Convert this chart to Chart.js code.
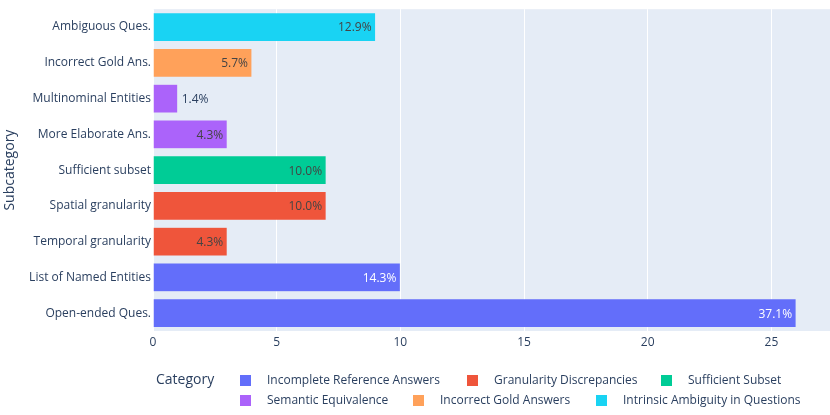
<!DOCTYPE html>
<html>
<head>
<meta charset="utf-8">
<script src="https://cdn.jsdelivr.net/npm/chart.js@4"></script>
<style>
html,body{margin:0;padding:0;background:#fff;}
#wrap{width:830px;height:415px;position:relative;}
</style>
</head>
<body>
<div id="wrap"><canvas id="c"></canvas></div>
<script>
// ---- data (top level) ----
const subcategories = ["Ambiguous Ques.", "Incorrect Gold Ans.", "Multinominal Entities", "More Elaborate Ans.", "Sufficient subset", "Spatial granularity", "Temporal granularity", "List of Named Entities", "Open-ended Ques."];
const counts = [9, 4, 1, 3, 7, 7, 3, 10, 26];
const percentLabels = ["12.9%", "5.7%", "1.4%", "4.3%", "10.0%", "10.0%", "4.3%", "14.3%", "37.1%"];
const barCategory = ["Intrinsic Ambiguity in Questions", "Incorrect Gold Answers", "Semantic Equivalence", "Semantic Equivalence", "Sufficient Subset", "Granularity Discrepancies", "Granularity Discrepancies", "Incomplete Reference Answers", "Incomplete Reference Answers"];
const categories = ["Incomplete Reference Answers", "Granularity Discrepancies", "Sufficient Subset", "Semantic Equivalence", "Incorrect Gold Answers", "Intrinsic Ambiguity in Questions"];
const categoryColors = ["#636EFA", "#EF553B", "#00CC96", "#AB63FA", "#FFA15A", "#19D3F3"];
const categoryTextColors = ["#ffffff", "#444444", "#444444", "#444444", "#444444", "#444444"];
const xTicks = [0, 5, 10, 15, 20, 25];

const FONT = "'Open Sans', sans-serif";
const INK = "#2a3f5f";
const colorOf = c => categoryColors[categories.indexOf(c)];
const textColorOf = c => categoryTextColors[categories.indexOf(c)];

const plotBg = {
  id: 'plotBg',
  beforeDraw(chart) {
    const {ctx, chartArea: a} = chart;
    ctx.save();
    ctx.fillStyle = '#ffffff';
    ctx.fillRect(0, 0, chart.width, chart.height);
    ctx.fillStyle = '#E5ECF6';
    ctx.fillRect(a.left, a.top, a.right - a.left, a.bottom - a.top);
    ctx.restore();
  }
};

const barText = {
  id: 'barText',
  afterDatasetsDraw(chart) {
    const {ctx} = chart;
    const meta = chart.getDatasetMeta(0);
    ctx.save();
    ctx.font = "12px " + FONT;
    ctx.textBaseline = 'middle';
    meta.data.forEach((bar, i) => {
      const txt = percentLabels[i];
      const w = ctx.measureText(txt).width;
      const barW = bar.x - bar.base;
      if (barW >= w + 8) {
        ctx.textAlign = 'right';
        ctx.fillStyle = textColorOf(barCategory[i]);
        ctx.fillText(txt, bar.x - 4, bar.y + 1);
      } else {
        ctx.textAlign = 'left';
        ctx.fillStyle = INK;
        ctx.fillText(txt, bar.x + 4, bar.y + 1);
      }
    });
    ctx.restore();
  }
};

const legendPlot = {
  id: 'legendPlot',
  afterDraw(chart) {
    const {ctx} = chart;
    ctx.save();
    ctx.textBaseline = 'middle';
    ctx.textAlign = 'left';
    ctx.fillStyle = INK;
    ctx.font = "14px " + FONT;
    ctx.fillText("Category", 156, 380);
    ctx.font = "12px " + FONT;
    const boxX = [240, 467, 661, 240, 413, 596];
    const rowY = [381, 401];
    categories.forEach((c, i) => {
      const x = boxX[i], y = rowY[Math.floor(i / 3)];
      ctx.fillStyle = categoryColors[i];
      ctx.fillRect(x, y - 6, 11, 11);
      ctx.fillStyle = INK;
      ctx.fillText(c, x + 27, y);
    });
    ctx.restore();
  }
};

new Chart(document.getElementById('c'), {
  type: 'bar',
  data: {
    labels: subcategories,
    datasets: [{
      data: counts,
      backgroundColor: barCategory.map(colorOf),
      borderColor: '#E5ECF6',
      borderWidth: 0.5,
      categoryPercentage: 0.8,
      barPercentage: 1.0
    }]
  },
  options: {
    indexAxis: 'y',
    responsive: true,
    maintainAspectRatio: false,
    animation: false,
    devicePixelRatio: 1,
    layout: {padding: {top: 0, right: 0, bottom: 60, left: 0}},
    plugins: {legend: {display: false}, tooltip: {enabled: false}},
    scales: {
      x: {
        min: 0, max: 27.37,
        afterBuildTicks(scale) { scale.ticks = xTicks.map(v => ({value: v})); },
        afterFit(scale) { scale.height = 24; },
        grid: {color: '#ffffff', lineWidth: 1, drawTicks: false},
        border: {display: false},
        ticks: {color: INK, font: {family: FONT, size: 12}, padding: 4, maxRotation: 0}
      },
      y: {
        afterFit(scale) { scale.width = 153; },
        grid: {display: false, drawTicks: false},
        border: {display: false},
        ticks: {color: INK, font: {family: FONT, size: 12}, padding: 2},
        title: {display: true, text: 'Subcategory', color: INK, font: {family: FONT, size: 14}, padding: {top: 2, bottom: 0}}
      }
    }
  },
  plugins: [plotBg, barText, legendPlot]
});
</script>
</body>
</html>
